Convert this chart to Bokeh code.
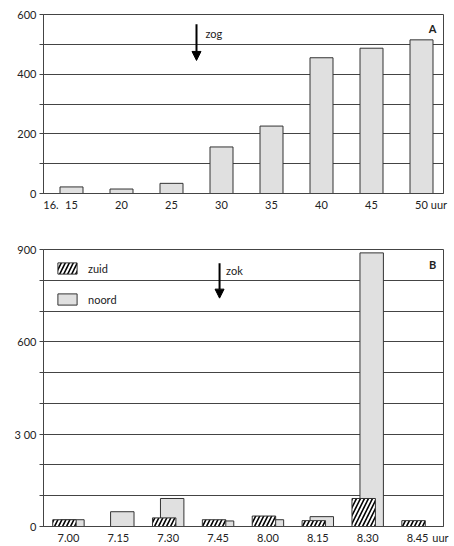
from bokeh.plotting import figure
from bokeh.models import FixedTicker, Label, Arrow, NormalHead, Legend, LegendItem
from bokeh.layouts import column
from bokeh.embed import file_html
from bokeh.resources import INLINE

# ---- Panel A data ----
a_times = [15, 20, 25, 30, 35, 40, 45, 50]
a_values = [22, 15, 34, 156, 226, 455, 487, 515]
a_yticks = [0, 100, 200, 300, 400, 500, 600]
a_ylabels = {0: "0", 100: "", 200: "200", 300: "", 400: "400", 500: "", 600: "600"}
a_prefix = "16."
a_unit = "uur"

# ---- Panel B data ----
b_times = ["7.00", "7.15", "7.30", "7.45", "8.00", "8.15", "8.30", "8.45"]
b_zuid = [22, 0, 28, 22, 34, 19, 91, 19]
b_noord = [22, 48, 91, 18, 22, 32, 889, 0]
b_yticks = [0, 100, 200, 300, 400, 500, 600, 700, 800, 900]
b_ylabels = {0: "0", 100: "", 200: "", 300: "3 00", 400: "", 500: "", 600: "600",
             700: "", 800: "", 900: "900"}
b_unit = "uur"

FONT = "Lato"
TXT = "#222222"
LINE = "#444444"
BARFILL = "#e0e0e0"


def style(p, yticks, ylabels, xticks, xlabels):
    p.xgrid.visible = False
    p.ygrid.ticker = FixedTicker(ticks=yticks)
    p.ygrid.grid_line_color = LINE
    p.ygrid.grid_line_width = 1
    p.outline_line_color = LINE
    p.outline_line_width = 1
    p.background_fill_color = "white"
    p.border_fill_color = "white"
    for ax in (p.xaxis[0], p.yaxis[0]):
        ax.axis_line_color = LINE
        ax.minor_tick_line_color = None
        ax.major_label_text_font = FONT
        ax.major_label_text_font_size = "11px"
        ax.major_label_text_color = TXT
    p.yaxis.ticker = FixedTicker(ticks=yticks)
    p.yaxis.major_label_overrides = ylabels
    p.yaxis.major_tick_out = 4
    p.yaxis.major_tick_in = 0
    p.yaxis.major_tick_line_color = LINE
    p.yaxis.major_label_standoff = 3
    p.xaxis.ticker = FixedTicker(ticks=xticks)
    p.xaxis.major_label_overrides = xlabels
    p.xaxis.major_tick_line_color = None
    p.xaxis.major_tick_out = 0
    p.xaxis.major_tick_in = 0
    p.xaxis.major_label_standoff = 4


# ---------------- Panel A ----------------
pA = figure(width=450, height=221, x_range=(12.2, 52.2), y_range=(0, 600),
            output_backend="svg", toolbar_location=None,
            min_border_left=43, min_border_right=7, min_border_top=14, min_border_bottom=28)
pA.vbar(x=a_times, top=a_values, width=2.3, fill_color=BARFILL,
        line_color="#333333", line_width=1)
pre_x = a_times[0] - 2.05
unit_x = a_times[-1] + 1.75
a_xticks = [pre_x] + a_times + [unit_x]
a_xlabels = {t: str(t) for t in a_times}
a_xlabels[pre_x] = a_prefix
a_xlabels[unit_x] = a_unit
style(pA, a_yticks, a_ylabels, a_xticks, a_xlabels)

pA.add_layout(Arrow(end=NormalHead(size=9, fill_color="black", line_color="black"),
                    x_start=27.5, y_start=567, x_end=27.5, y_end=446,
                    line_width=2, line_color="black"))
pA.add_layout(Label(x=28.4, y=537, text="zog", text_font=FONT, text_font_size="11px",
                    text_color=TXT, text_align="left", text_baseline="middle"))
pA.add_layout(Label(x=51.1, y=553, text="A", text_font=FONT, text_font_size="11px",
                    text_font_style="bold", text_color=TXT, text_align="center",
                    text_baseline="middle"))

# ---------------- Panel B ----------------
idx = list(range(len(b_times)))
pB = figure(width=450, height=325, x_range=(-0.5, 7.52), y_range=(0, 900),
            output_backend="svg", toolbar_location=None,
            min_border_left=42, min_border_right=7, min_border_top=28, min_border_bottom=17)
rn = pB.vbar(x=[i + 0.08 for i in idx], top=b_noord, width=0.47, fill_color=BARFILL,
             line_color="#333333", line_width=1)
rz = pB.vbar(x=[i - 0.08 for i in idx], top=b_zuid, width=0.47, fill_color="white",
             hatch_pattern="/", hatch_color="black", hatch_weight=1.6, hatch_scale=8,
             line_color="#333333", line_width=1)
b_unit_x = idx[-1] + 0.46
b_xticks = idx + [b_unit_x]
b_xlabels = {i: t for i, t in zip(idx, b_times)}
b_xlabels[b_unit_x] = b_unit
style(pB, b_yticks, b_ylabels, b_xticks, b_xlabels)

pB.add_layout(Arrow(end=NormalHead(size=9, fill_color="black", line_color="black"),
                    x_start=3.03, y_start=855, x_end=3.03, y_end=742,
                    line_width=2, line_color="black"))
pB.add_layout(Label(x=3.16, y=831, text="zok", text_font=FONT, text_font_size="11px",
                    text_color=TXT, text_align="left", text_baseline="middle"))
pB.add_layout(Label(x=7.3, y=850, text="B", text_font=FONT, text_font_size="11px",
                    text_font_style="bold", text_color=TXT, text_align="center",
                    text_baseline="middle"))

legend = Legend(items=[LegendItem(label="zuid", renderers=[rz]),
                       LegendItem(label="noord", renderers=[rn])],
                location="top_left", border_line_color=None, background_fill_alpha=0,
                margin=12, padding=0, spacing=17, glyph_width=24, glyph_height=14,
                label_height=14, label_standoff=9, label_text_font=FONT,
                label_text_font_size="11px", label_text_color=TXT)
pB.add_layout(legend)

layout = column(pA, pB)
open("out.html", "w").write(file_html(layout, INLINE))
